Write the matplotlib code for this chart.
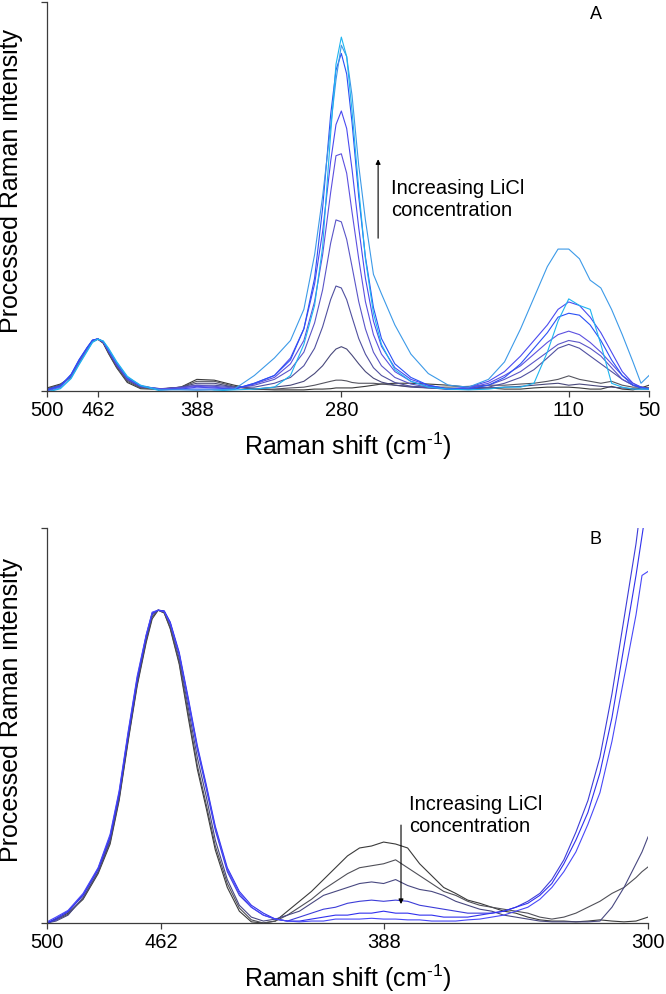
"""Raman spectra of LiCl solutions, two panels (A: 500-50, B: 500-300 cm-1)."""
import matplotlib
matplotlib.use('Agg')
import matplotlib.pyplot as plt

plt.rcParams['font.family'] = ['Liberation Sans', 'DejaVu Sans']
plt.rcParams['mathtext.fontset'] = 'custom'
plt.rcParams['mathtext.rm'] = 'Liberation Sans'
plt.rcParams['mathtext.it'] = 'Liberation Sans:italic'

# Panel A data (intensity in % of axis height)
shift_a = [500, 490, 482, 476, 470, 466, 462, 458, 454, 448, 440, 430, 415,
           400, 388, 375, 360, 345, 330, 318, 308, 300, 294, 288, 284, 280,
           276, 272, 267, 262, 256, 250, 240, 228, 215, 200, 185, 170, 158,
           146, 136, 126, 118, 110, 102, 94, 86, 78, 70, 62, 56, 50]
ticks_a = [500, 462, 388, 280, 110, 50]

a0 = [0.8, 1.8, 3.6, 7.2, 10.6, 12.7, 13.3, 12.3, 9.6, 6.0, 2.2, 0.6, 0.4,
      1.0, 3.0, 2.8, 1.5, 0.5, 0.3, 0.3, 0.3, 0.5, 0.5, 0.6, 0.8, 0.8,
      0.8, 0.8, 1.0, 1.2, 1.5, 1.8, 2.0, 2.0, 1.8, 1.5, 1.0, 0.8, 0.5,
      0.5, 0.8, 1.0, 1.0, 1.0, 0.8, 0.5, 0.5, 1.2, 0.5, 0.3, 0.8, 1.5]
a1 = [0.6, 1.6, 3.7, 7.4, 10.8, 12.8, 13.4, 12.4, 9.8, 6.2, 2.5, 0.8, 0.5,
      1.0, 2.5, 2.5, 1.2, 0.5, 0.5, 0.8, 1.0, 1.5, 2.0, 2.5, 2.8, 2.8,
      2.6, 2.2, 2.0, 2.0, 2.0, 1.8, 1.5, 1.2, 1.0, 1.0, 1.2, 1.5, 1.5,
      1.8, 2.0, 2.5, 3.0, 3.9, 3.0, 2.5, 2.0, 2.5, 1.5, 1.0, 1.0, 0.8]
a2 = [0.4, 1.4, 3.9, 7.6, 10.9, 12.9, 13.4, 12.5, 10.0, 6.5, 2.8, 1.0, 0.6,
      1.0, 2.0, 2.0, 1.0, 0.5, 1.0, 1.5, 2.5, 4.5, 6.5, 9.3, 10.8, 11.4,
      10.8, 9.2, 7.0, 5.0, 3.3, 2.3, 1.5, 1.0, 0.8, 0.5, 0.5, 0.8, 1.0,
      1.2, 1.5, 1.8, 2.0, 1.5, 1.8, 1.5, 1.2, 1.0, 0.8, 0.6, 0.5, 0.5]
a3 = [0.5, 1.5, 3.8, 7.5, 10.8, 12.8, 13.4, 12.6, 10.2, 6.7, 3.0, 1.1, 0.5,
      1.0, 1.5, 1.5, 1.0, 1.0, 2.0, 3.5, 6.5, 11.0, 16.5, 23.5, 27.0, 26.5,
      23.5, 19.0, 13.5, 9.5, 6.0, 4.0, 2.2, 1.2, 0.8, 0.5, 0.5, 1.0, 2.0,
      3.5, 5.5, 8.5, 11.0, 12.0, 11.0, 9.0, 7.0, 5.0, 3.0, 1.5, 1.0, 0.8]
a4 = [0.3, 1.3, 4.0, 7.7, 11.0, 12.9, 13.4, 12.6, 10.3, 6.8, 3.1, 1.2, 0.6,
      0.8, 1.5, 1.2, 0.8, 1.5, 3.0, 5.5, 10.0, 17.5, 26.0, 38.0, 44.0, 43.5,
      39.0, 32.0, 23.0, 16.0, 10.0, 6.5, 3.5, 1.8, 1.0, 0.5, 0.8, 1.5, 3.0,
      5.0, 7.5, 10.0, 12.0, 13.0, 12.5, 11.0, 9.0, 6.0, 3.0, 1.5, 1.0, 0.5]
a5 = [0.2, 1.2, 4.1, 7.8, 11.0, 13.0, 13.4, 12.6, 10.3, 6.9, 3.2, 1.2, 0.5,
      0.8, 1.2, 1.0, 0.5, 1.8, 3.5, 7.0, 13.0, 23.0, 35.0, 51.0, 60.5, 61.0,
      56.0, 46.0, 34.0, 23.0, 14.5, 9.5, 5.0, 2.5, 1.2, 0.5, 0.8, 2.0, 4.0,
      6.5, 9.5, 12.5, 14.5, 15.4, 14.5, 12.5, 10.0, 7.0, 4.0, 2.0, 1.0, 0.5]
a6 = [0.0, 1.0, 4.2, 8.0, 11.2, 13.1, 13.4, 12.7, 10.4, 7.0, 3.3, 1.3, 0.4,
      0.5, 1.0, 0.8, 0.5, 2.0, 4.0, 8.5, 16.0, 27.5, 41.0, 59.0, 68.5, 72.0,
      67.5, 57.0, 42.0, 29.0, 18.0, 11.5, 6.0, 3.0, 1.5, 0.5, 1.0, 2.5, 5.0,
      9.0, 13.0, 17.0, 21.0, 22.9, 22.0, 19.0, 15.0, 10.0, 5.0, 2.0, 1.0, 0.5]
a7 = [0.3, 1.4, 4.3, 8.1, 11.2, 13.1, 13.4, 12.7, 10.5, 7.2, 3.4, 1.3, 0.3,
      0.5, 0.5, 0.5, 0.5, 2.0, 4.0, 8.0, 16.0, 29.0, 47.0, 71.0, 82.5, 86.8,
      81.5, 69.0, 50.0, 34.5, 21.5, 13.5, 7.0, 3.5, 1.5, 0.5, 0.5, 1.5, 3.5,
      7.0, 11.0, 15.0, 19.0, 20.0, 19.5, 17.0, 13.0, 8.0, 4.0, 1.5, 0.8, 0.5]
a8 = [-0.2, 0.8, 3.4, 7.0, 10.4, 12.6, 13.4, 12.8, 10.8, 7.4, 3.6, 1.5, 0.3,
      0.3, 0.2, 0.3, 0.5, 4.0, 8.5, 13.0, 21.0, 35.0, 50.0, 68.0, 80.0, 88.9,
      86.0, 76.0, 58.0, 44.0, 30.0, 25.0, 17.0, 9.5, 4.5, 1.5, 1.0, 3.0, 7.5,
      16.0, 24.0, 32.0, 36.5, 36.5, 34.0, 28.5, 26.5, 21.0, 14.5, 7.5, 2.0, 4.0]
a9 = [-0.3, 0.6, 3.2, 6.8, 10.2, 12.5, 13.3, 12.9, 11.0, 7.6, 3.8, 1.4, 0.0,
      -0.3, -0.8, 0.0, 0.3, 0.5, 1.0, 4.0, 12.0, 22.0, 37.0, 66.0, 84.0, 91.0,
      86.0, 72.0, 52.0, 34.0, 20.0, 12.0, 5.5, 2.5, 1.0, 0.5, 0.3, 0.5, 1.0,
      1.0, 2.0, 10.0, 18.0, 23.7, 22.0, 21.0, 12.0, 2.0, 1.0, 0.5, 0.5, 0.5]
colors_a = ['#3a3a3a', '#55555f', '#48487a', '#5050a0', '#5a55c8',
            '#5c50e0', '#4a4af0', '#2a50f5', '#3c9ae8', '#1eb4f0']

# Panel B data
shift_b = [500, 497, 493, 488, 483, 479, 476, 473, 470, 467, 465, 463, 461,
           459, 456, 453, 450, 447, 444, 440, 436, 432, 428, 424, 420, 416,
           412, 408, 404, 400, 396, 392, 388, 384, 380, 376, 372, 368, 364,
           360, 356, 352, 348, 344, 340, 336, 332, 328, 324, 320, 316, 312,
           308, 304, 302, 300]
ticks_b = [500, 462, 388, 300]

b0 = [0, 1, 2.5, 6, 12.5, 20, 31, 46, 60, 71, 77, 79.2, 78.5, 74.5, 65.5,
      52, 39, 29, 18.5, 9, 3, 0.3, 0,
      0.5, 3, 5.5, 8, 11, 14, 17, 19, 19.5, 20.5, 20, 19, 15, 12, 9, 7.5,
      5.8, 5, 4, 3, 2.5, 1.5, 0.8, 0.5, 0.5, 0.3, 0.5, 0.8, 0.5, 0.3, 0.5,
      1.0, 1.5]
b1 = [0, 0.8, 2.2, 6.2, 12.8, 20.5, 31.5, 46.5, 60.5, 71.5, 77.5, 79.2, 78.5,
      74.8, 66, 53, 40, 30, 19.5, 10, 3.8, 0.8, 0,
      0.5, 2, 4, 6, 8.5, 10.5, 12.5, 14, 14.5, 15, 16, 14, 12, 10, 8, 7,
      5.5, 4.5, 4, 3.5, 3, 2.5, 1.5, 1, 1.5, 2.5, 4, 5.5, 7.5, 9, 11.5,
      13, 14.2]
b2 = [0, 0.5, 2, 6.5, 13, 21, 32, 47, 61, 72, 78, 79.2, 78.8, 75.5, 67,
      54.5, 42, 32, 21, 11, 4.5, 1.5, 0.5,
      1, 2, 3, 5, 7, 8, 9, 10, 10.4, 10, 11, 9.5, 8.5, 8, 7, 5.5,
      4.5, 3.5, 3, 2, 1.5, 1, 0.5, 0.3, 0.3, 0.3, 0.3, 0.5, 4, 9, 15,
      18, 21.8]
b3 = [0, 0.8, 2.8, 7, 13.5, 21.5, 32.5, 47.5, 61.5, 72.5, 78.3, 79.2, 79,
      76, 68, 56, 44, 34, 23.5, 13, 7, 4, 2,
      1, 0.5, 1.5, 2.5, 3.5, 4, 5, 5.5, 5.8, 5.5, 5.8, 5.5, 4.5, 4, 3.5, 3,
      2.5, 2.5, 2.5, 3, 4, 5.5, 7.5, 11, 16, 23, 31, 42, 58, 77, 96,
      108, 120]
b4 = [0, 1.2, 3, 7.2, 13.8, 22, 33, 48, 62, 72.8, 78.5, 79.2, 79, 76.2,
      68.5, 57, 45, 35, 24.5, 14, 8, 4.5, 2.5,
      1, 0.5, 0.5, 1, 1.5, 2, 2, 2.5, 2.5, 3, 2.5, 2.5, 2, 2, 1.5, 1.5,
      1.5, 2, 2.5, 3, 4, 5, 7, 10, 15, 21, 28, 38, 52, 70, 88,
      98, 108]
b5 = [0.3, 1.5, 3.2, 7.5, 14, 22.5, 33.5, 48.5, 62.5, 73, 78.7, 79.2, 78.8,
      75.8, 68, 56.5, 44.5, 34.5, 24, 13.5, 7.5, 4, 2,
      1, 0.5, 0.3, 0.5, 0.5, 1, 1, 1, 1.2, 1, 1, 0.8, 0.8, 0.5, 0.5, 0.5,
      0.8, 1, 1.5, 2, 3, 4, 6, 9, 13, 18, 25, 33, 46, 62, 78,
      88, 89]
colors_b = ['#3a3a3a', '#505058', '#484880', '#3c3cd8', '#3030ee', '#4848f8']


def style_axes(ax, xmin, xmax, ticks):
    """Reversed x axis, bare y axis, Excel-like spines."""
    ax.set_xlim(xmin, xmax)
    ax.set_ylim(0, 100)
    ax.set_xticks(ticks)
    ax.set_yticks([0, 100])
    ax.set_yticklabels([])
    for side in ['top', 'right']:
        ax.spines[side].set_visible(False)
    for side in ['left', 'bottom']:
        ax.spines[side].set_color('#3c3c3c')
        ax.spines[side].set_linewidth(0.9)
    ax.tick_params(direction='out', length=4, width=0.9, colors='#3c3c3c',
                   labelcolor='black', labelsize=14.5, pad=3)
    ax.set_xlabel('Raman shift (cm$^{\\text{-}1}$)', fontsize=18, labelpad=8)
    ax.set_ylabel('Processed Raman intensity', fontsize=18)
    ax.yaxis.set_label_coords(-0.04, 0.54)


fig = plt.figure(figsize=(6.66, 9.94), dpi=100)

# Panel A
ax1 = fig.add_axes([0.0706, 0.6066, 0.9039, 0.3913])
for y, c in zip([a0, a1, a2, a3, a4, a5, a6, a7, a8, a9], colors_a):
    ax1.plot(shift_a, y, color=c, lw=0.8)
style_axes(ax1, 500, 50, ticks_a)
ax1.text(0.912, 0.969, 'A', transform=ax1.transAxes, fontsize=13,
         ha='center', va='center')
ax1.text(0.571, 0.492, 'Increasing LiCl\nconcentration',
         transform=ax1.transAxes, fontsize=14.5, ha='left', va='center')
ax1.annotate('', xy=(0.55, 0.596), xytext=(0.55, 0.393),
             xycoords='axes fraction', textcoords='axes fraction',
             arrowprops=dict(arrowstyle='-|>', color='black', lw=0.8,
                             mutation_scale=7, shrinkA=0, shrinkB=0))

# Panel B
ax2 = fig.add_axes([0.0706, 0.0714, 0.9024, 0.3974])
for y, c in zip([b0, b1, b2, b3, b4, b5], colors_b):
    ax2.plot(shift_b, y, color=c, lw=0.8)
style_axes(ax2, 500, 300, ticks_b)
ax2.text(0.912, 0.970, 'B', transform=ax2.transAxes, fontsize=13,
         ha='center', va='center')
ax2.text(0.602, 0.272, 'Increasing LiCl\nconcentration',
         transform=ax2.transAxes, fontsize=14.5, ha='left', va='center')
ax2.annotate('', xy=(0.589, 0.048), xytext=(0.589, 0.248),
             xycoords='axes fraction', textcoords='axes fraction',
             arrowprops=dict(arrowstyle='-|>', color='black', lw=0.8,
                             mutation_scale=7, shrinkA=0, shrinkB=0))

fig.savefig('out.png', dpi=100)
